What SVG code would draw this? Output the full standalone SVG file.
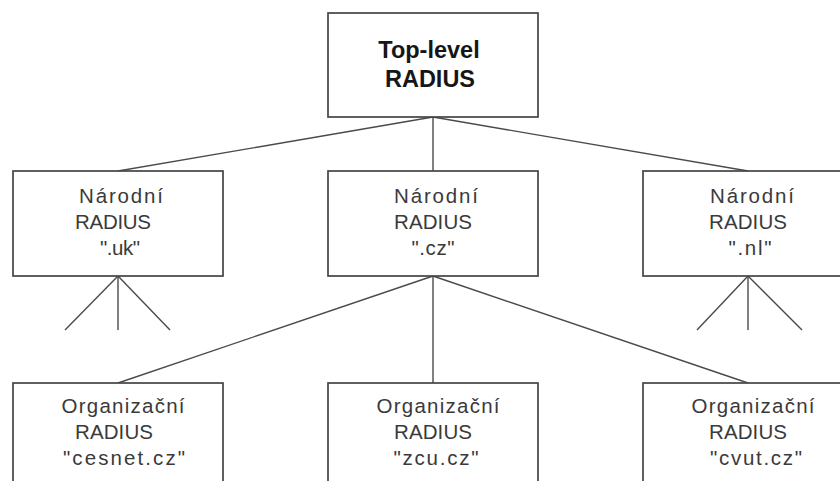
<svg xmlns="http://www.w3.org/2000/svg" width="840" height="481" viewBox="0 0 840 481">
<style>
.box{fill:#fff;stroke:#444;stroke-width:1.7}
.t{font-family:"Liberation Sans",Arial,sans-serif;font-size:20.5px;fill:#3a3a3a;text-anchor:middle}
.b{font-family:"Liberation Sans",Arial,sans-serif;font-size:23.5px;font-weight:bold;fill:#161616;text-anchor:middle}
.c{stroke:#4a4a4a;stroke-width:1.4;fill:none}
</style>
<rect width="840" height="481" fill="#fff"/>
<g id="connectors">
<line class="c" x1="433" y1="117" x2="118" y2="171"/>
<line class="c" x1="433" y1="117" x2="433" y2="171"/>
<line class="c" x1="433" y1="117" x2="748" y2="171"/>
<line class="c" x1="433" y1="276" x2="118" y2="383"/>
<line class="c" x1="433" y1="276" x2="433" y2="383"/>
<line class="c" x1="433" y1="276" x2="748" y2="383"/>
<line class="c" x1="118" y1="276" x2="65" y2="330"/>
<line class="c" x1="118" y1="276" x2="118" y2="330"/>
<line class="c" x1="118" y1="276" x2="170" y2="330"/>
<line class="c" x1="748" y1="276" x2="697" y2="330"/>
<line class="c" x1="748" y1="276" x2="748" y2="330"/>
<line class="c" x1="748" y1="276" x2="802" y2="330"/>
</g>
<g id="top">
<rect class="box" x="328" y="13" width="210" height="104"/>
<text class="b" x="429" y="58">Top-level</text>
<text class="b" x="430" y="87">RADIUS</text>
</g>
<g id="uk">
<rect class="box" x="13" y="171" width="210" height="105"/>
<text class="t" x="121" y="203" textLength="84" lengthAdjust="spacing">Národní</text>
<text class="t" x="113" y="229" textLength="76" lengthAdjust="spacing">RADIUS</text>
<text class="t" x="120" y="255" textLength="40" lengthAdjust="spacing">".uk"</text>
</g>
<g id="cz">
<rect class="box" x="328" y="171" width="210" height="105"/>
<text class="t" x="436" y="203" textLength="84" lengthAdjust="spacing">Národní</text>
<text class="t" x="433" y="229" textLength="78" lengthAdjust="spacing">RADIUS</text>
<text class="t" x="433" y="255" textLength="43" lengthAdjust="spacing">".cz"</text>
</g>
<g id="nl">
<rect class="box" x="643" y="171" width="210" height="105"/>
<text class="t" x="752" y="203" textLength="84" lengthAdjust="spacing">Národní</text>
<text class="t" x="748" y="229" textLength="78" lengthAdjust="spacing">RADIUS</text>
<text class="t" x="750" y="255" textLength="43" lengthAdjust="spacing">".nl"</text>
</g>
<g id="cesnet">
<rect class="box" x="13" y="383" width="210" height="110"/>
<text class="t" x="123" y="413" textLength="123" lengthAdjust="spacing">Organizační</text>
<text class="t" x="114" y="439" textLength="78" lengthAdjust="spacing">RADIUS</text>
<text class="t" x="124" y="465" textLength="122" lengthAdjust="spacing">"cesnet.cz"</text>
</g>
<g id="zcu">
<rect class="box" x="328" y="383" width="210" height="110"/>
<text class="t" x="438" y="413" textLength="123" lengthAdjust="spacing">Organizační</text>
<text class="t" x="433" y="439" textLength="78" lengthAdjust="spacing">RADIUS</text>
<text class="t" x="436" y="465" textLength="85" lengthAdjust="spacing">"zcu.cz"</text>
</g>
<g id="cvut">
<rect class="box" x="643" y="383" width="210" height="110"/>
<text class="t" x="753" y="413" textLength="123" lengthAdjust="spacing">Organizační</text>
<text class="t" x="748" y="439" textLength="78" lengthAdjust="spacing">RADIUS</text>
<text class="t" x="756" y="465" textLength="92" lengthAdjust="spacing">"cvut.cz"</text>
</g>
</svg>
